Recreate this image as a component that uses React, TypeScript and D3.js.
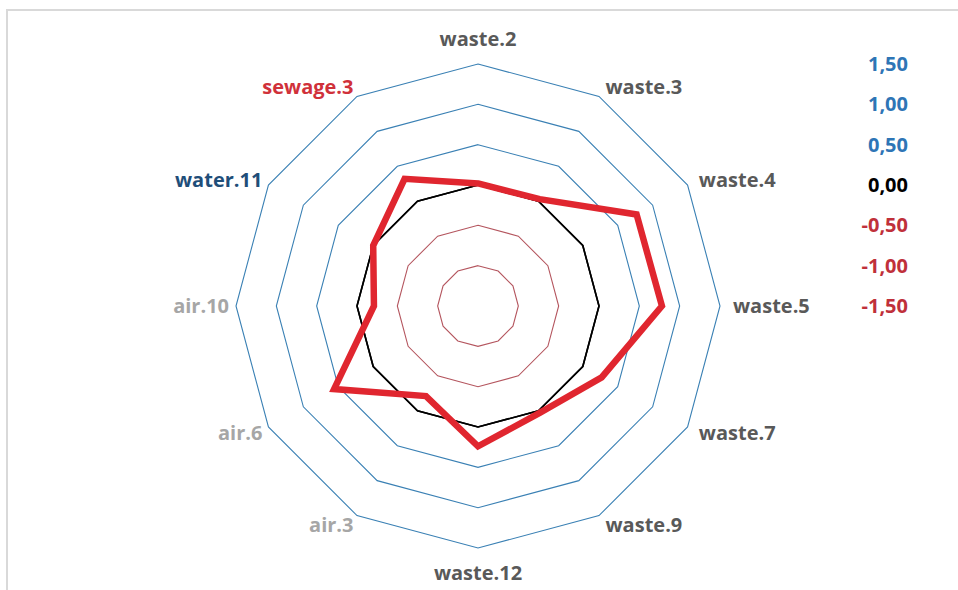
import React from "react";
import * as d3 from "d3";

const categories = ["waste.2", "waste.3", "waste.4", "waste.5", "waste.7", "waste.9", "waste.12", "air.3", "air.6", "air.10", "water.11", "sewage.3"];
const seriesValues = [0.02, 0.03, 0.77, 0.78, 0.27, 0.03, 0.24, -0.21, 0.56, -0.21, 0.0, 0.32];
const zeroValues = [0, 0, 0, 0, 0, 0, 0, 0, 0, 0, 0, 0];
const ringLevels = [-1.0, -0.5, 0, 0.5, 1.0, 1.5];
const tickLabels = ["1,50", "1,00", "0,50", "0,00", "-0,50", "-1,00", "-1,50"];
const tickValues = [1.5, 1.0, 0.5, 0, -0.5, -1.0, -1.5];

const W = 958, H = 590;
const cx = 478, cy = 306, R = 242;
const FONT = "'Open Sans', sans-serif";

function labelColor(c: string) {
  if (c.startsWith("waste")) return "#595959";
  if (c.startsWith("air")) return "#a6a6a6";
  if (c.startsWith("water")) return "#1f4e79";
  return "#d0313a";
}
function ringColor(v: number) {
  if (v < 0) return "#b4555e";
  if (v === 0) return "#000000";
  return "#3a80b4";
}
function tickColor(v: number) {
  if (v < 0) return "#c0303a";
  if (v === 0) return "#000000";
  return "#2e75b6";
}

export default function App() {
  const r = d3.scaleLinear().domain([-1.5, 1.5]).range([0, R]);
  const angle = d3.scaleLinear().domain([0, categories.length]).range([0, 2 * Math.PI]);
  const line = d3
    .lineRadial<number>()
    .angle((_, i) => angle(i))
    .radius((v) => r(v))
    .curve(d3.curveLinearClosed);
  const yTick = d3.scaleLinear().domain([-1.5, 1.5]).range([cy, cy - R]);

  return (
    <svg width={W} height={H} style={{ position: "fixed", left: 0, top: 0, background: "#fff" }}>
      <rect x={0} y={0} width={W} height={H} fill="#fff" />
      <line x1={6} y1={10} x2={W} y2={10} stroke="#d9d9d9" strokeWidth={2} />
      <line x1={7} y1={10} x2={7} y2={H} stroke="#d9d9d9" strokeWidth={2} />
      <g transform={`translate(${cx},${cy})`}>
        {ringLevels.map((lv) => (
          <path
            key={lv}
            d={line(categories.map(() => lv)) || ""}
            fill="none"
            stroke={ringColor(lv)}
            strokeWidth={lv === 0 ? 1.6 : 1.1}
          />
        ))}
        <path d={line(zeroValues) || ""} fill="none" stroke="#000" strokeWidth={1.6} />
        <path
          d={line(seriesValues) || ""}
          fill="none"
          stroke="#e0262f"
          strokeWidth={6.5}
          strokeLinejoin="miter"
        />
      </g>
      {categories.map((c, i) => {
        const a = angle(i);
        const s = Math.sin(a), co = Math.cos(a);
        let x: number, y: number, anchor: "start" | "end" | "middle";
        if (Math.abs(s) < 0.01) {
          x = cx;
          y = cy - co * 267 + 7;
          anchor = "middle";
        } else if (s > 0) {
          x = cx + s * 255;
          y = cy - co * 253 + 7;
          anchor = "start";
        } else {
          x = cx + s * 249;
          y = cy - co * 253 + 7;
          anchor = "end";
        }
        return (
          <text
            key={c}
            x={x}
            y={y}
            textAnchor={anchor}
            fontFamily={FONT}
            fontWeight={700}
            fontSize={20}
            fill={labelColor(c)}
          >
            {c}
          </text>
        );
      })}
      {tickValues.map((v, i) => (
        <text
          key={v}
          x={908}
          y={yTick(v) + 7}
          textAnchor="end"
          fontFamily={FONT}
          fontWeight={700}
          fontSize={20}
          fill={tickColor(v)}
        >
          {tickLabels[i]}
        </text>
      ))}
    </svg>
  );
}
